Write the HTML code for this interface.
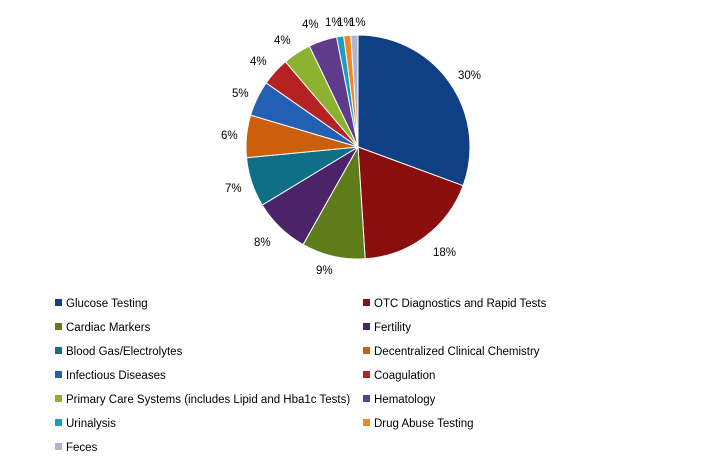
<!DOCTYPE html>
<html><head><meta charset="utf-8">
<style>
html,body{margin:0;padding:0;background:#fff;}
body{width:718px;height:468px;overflow:hidden;position:relative;font-family:"Liberation Sans",sans-serif;}
svg{position:absolute;left:0;top:0;}
text{font-family:"Liberation Sans",sans-serif;font-size:11.5px;fill:#000;}
</style></head><body>
<svg id="s" width="718" height="468" xmlns="http://www.w3.org/2000/svg"></svg>
<script>
var d=[
["Glucose Testing",30,"#0f3f84"],
["OTC Diagnostics  and Rapid Tests",18,"#8b0e0e"],
["Cardiac Markers",9,"#5e7d1a"],
["Fertility",8,"#4a2466"],
["Blood Gas/Electrolytes",7,"#0e6f86"],
["Decentralized Clinical Chemistry",6,"#cc5f0b"],
["Infectious Diseases",5,"#2360b4"],
["Coagulation",4,"#b52222"],
["Primary Care Systems (includes Lipid and Hba1c Tests)",4,"#8cb230"],
["Hematology",4,"#5f3b8c"],
["Urinalysis",1,"#1d9dc4"],
["Drug Abuse Testing",1,"#f58522"],
["Feces",1,"#a8b6d8"]];
var labels=[[458,79],[433,256],[316,274],[254,246],[225,192],[221,139],[232,97],[250,65],[274,44],[302,28],[325,26],[337,26],[349,26]];
var cx=358,cy=147,r=112,tot=98,a=0,h="";
d.forEach(function(e,i){
 var a1=a+e[1]/tot*2*Math.PI;
 var x0=cx+r*Math.sin(a),y0=cy-r*Math.cos(a),x1=cx+r*Math.sin(a1),y1=cy-r*Math.cos(a1);
 h+='<path d="M'+cx+','+cy+' L'+x0.toFixed(2)+','+y0.toFixed(2)+' A'+r+','+r+' 0 '+((a1-a)>Math.PI?1:0)+' 1 '+x1.toFixed(2)+','+y1.toFixed(2)+' Z" fill="'+e[2]+'" stroke="#fff" stroke-width="1"/>';
 a=a1;
});
d.forEach(function(e,i){h+='<text x="'+labels[i][0]+'" y="'+labels[i][1]+'">'+e[1]+'%</text>';});
d.forEach(function(e,i){
 var col=i%2,row=Math.floor(i/2);
 var mx=col?363:55,y=303+row*24;
 h+='<rect x="'+mx+'" y="'+(y-4)+'" width="7" height="7" fill="'+e[2]+'"/>';
 h+='<text x="'+(mx+11)+'" y="'+(y+4)+'">'+e[0]+'</text>';
});
document.getElementById("s").innerHTML=h;
</script>
</body></html>
